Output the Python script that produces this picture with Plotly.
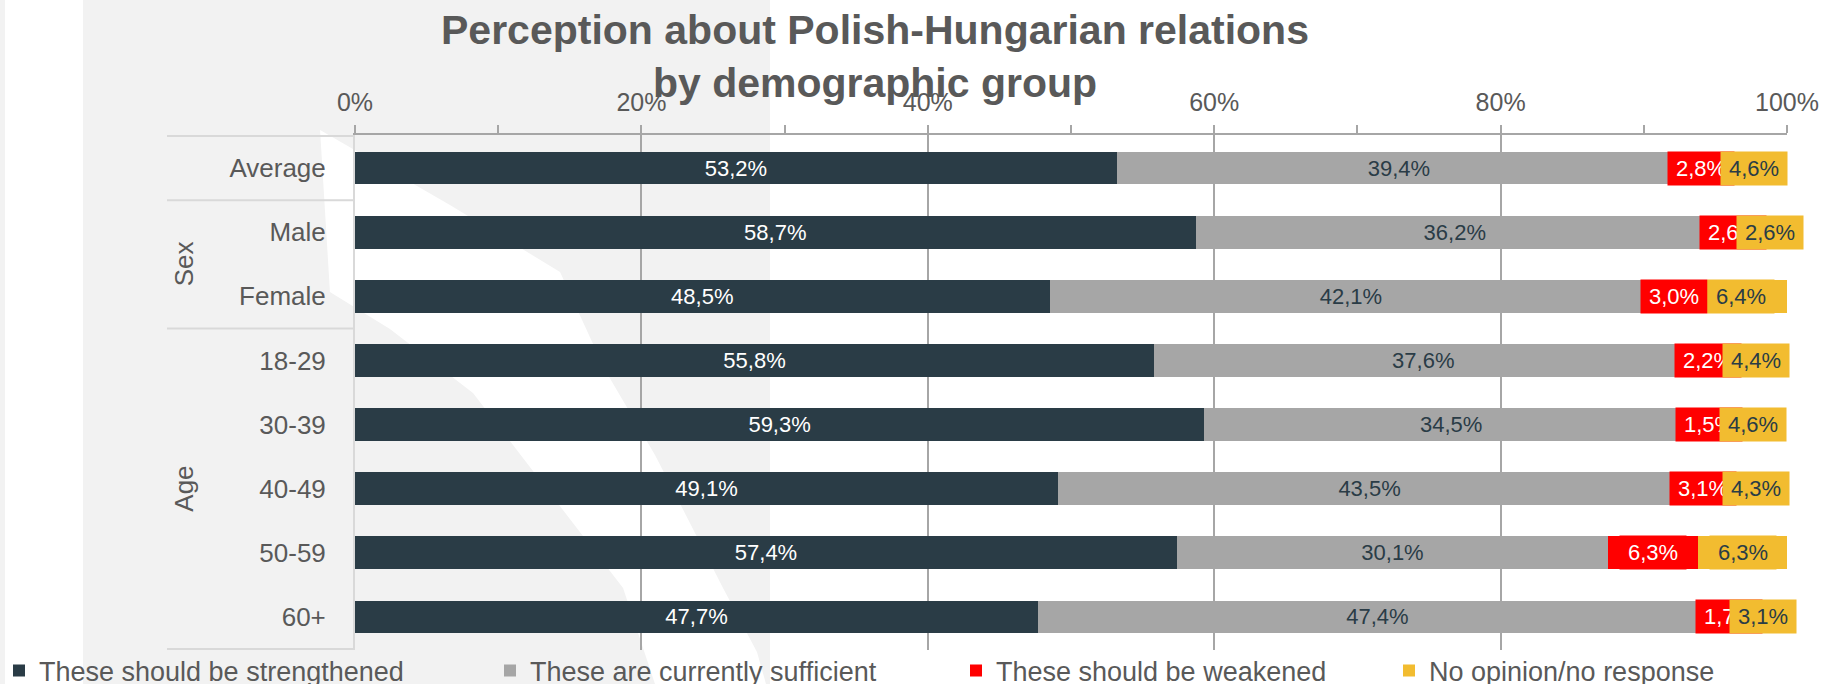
import plotly.graph_objects as go

# rows from top to bottom
categories = ['Average', 'Male', 'Female', '18-29', '30-39', '40-49', '50-59', '60+']
groups = {'Sex': ['Male', 'Female'], 'Age': ['18-29', '30-39', '40-49', '50-59', '60+']}

strengthened = [53.2, 58.7, 48.5, 55.8, 59.3, 49.1, 57.4, 47.7]
sufficient = [39.4, 36.2, 42.1, 37.6, 34.5, 43.5, 30.1, 47.4]
weakened = [2.8, 2.6, 3.0, 2.2, 1.5, 3.1, 6.3, 1.7]
no_opinion = [4.6, 2.6, 6.4, 4.4, 4.6, 4.3, 6.3, 3.1]

series_names = ['These should be strengthened', 'These are currently sufficient',
                'These should be weakened', 'No opinion/no response']

DARK = '#2a3c46'
GREY = '#a6a6a6'
RED = '#ff0000'
YELLOW = '#f2bc30'
TEXT = '#595959'
FONT = 'Liberation Sans, Arial, sans-serif'

W, H = 1827, 684
L, R, T, B = 355, 40, 135, 34


def px(v):
    # pixel x -> paper x
    return (v - L) / (W - L - R)


def py(v):
    # pixel y -> paper y
    return (H - B - v) / (H - T - B)


def fmt(v):
    return f'{v:.1f}%'.replace('.', ',')


fig = go.Figure()

fig.add_trace(go.Bar(
    y=categories, x=strengthened, orientation='h', name=series_names[0],
    marker=dict(color=DARK, line=dict(width=0)),
    text=[fmt(v) for v in strengthened], textposition='inside',
    insidetextanchor='middle', textangle=0,
    textfont=dict(family=FONT, size=22, color='white'),
    legend='legend2'))
fig.add_trace(go.Bar(
    y=categories, x=sufficient, orientation='h', name=series_names[1],
    marker=dict(color=GREY, line=dict(width=0)),
    text=[fmt(v) for v in sufficient], textposition='inside',
    insidetextanchor='middle', textangle=0,
    textfont=dict(family=FONT, size=22, color=DARK),
    legend='legend3'))
fig.add_trace(go.Bar(
    y=categories, x=weakened, orientation='h', name=series_names[2],
    marker=dict(color=RED, line=dict(width=0)),
    textposition='none', legend='legend4'))
fig.add_trace(go.Bar(
    y=categories, x=no_opinion, orientation='h', name=series_names[3],
    marker=dict(color=YELLOW, line=dict(width=0)),
    textposition='none', legend='legend5'))

# labels of the two thin segments, boxed like the original
annotations = []
for i, cat in enumerate(categories):
    base = strengthened[i] + sufficient[i]
    annotations.append(dict(
        x=base + weakened[i] / 2, y=cat, xref='x', yref='y', text=fmt(weakened[i]),
        showarrow=False, bgcolor=RED, width=66, height=33, borderpad=0,
        font=dict(family=FONT, size=22, color='white')))
for i, cat in enumerate(categories):
    base = strengthened[i] + sufficient[i] + weakened[i]
    annotations.append(dict(
        x=base + no_opinion[i] / 2, y=cat, xref='x', yref='y', text=fmt(no_opinion[i]),
        showarrow=False, bgcolor=YELLOW, width=66, height=33, borderpad=0,
        font=dict(family=FONT, size=22, color=DARK)))

# group labels on the category axis
for name, members in groups.items():
    idx = [categories.index(m) for m in members]
    annotations.append(dict(
        x=px(184), xref='paper', xanchor='center', y=(idx[0] + idx[-1]) / 2, yref='y',
        yanchor='middle', text=name, textangle=-90, showarrow=False,
        font=dict(family=FONT, size=26, color=TEXT)))

# background watermark + category dividers
shapes = [
    dict(type='rect', xref='paper', yref='paper', x0=px(0), x1=px(5), y0=py(H), y1=py(0),
         fillcolor='#f2f2f2', line=dict(width=0), layer='below'),
    dict(type='rect', xref='paper', yref='paper', x0=px(83), x1=px(770), y0=py(H), y1=py(0),
         fillcolor='#f2f2f2', line=dict(width=0), layer='below'),
]
swoosh = [(320, 130), (450, 205), (560, 272), (605, 370), (655, 455), (690, 523),
          (723, 588), (757, 652), (766, 684), (655, 684), (623, 588), (573, 523),
          (523, 458), (473, 393), (390, 329), (330, 292)]
path = 'M ' + ' L '.join(f'{px(a):.4f},{py(b):.4f}' for a, b in swoosh) + ' Z'
shapes.append(dict(type='path', xref='paper', yref='paper', path=path,
                   fillcolor='white', line=dict(width=0), layer='below'))

bounds = [-0.5, 0.5, 2.5, len(categories) - 0.5]
for b in bounds:
    shapes.append(dict(type='line', xref='paper', yref='y', x0=px(167), x1=0, y0=b, y1=b,
                       line=dict(color='#d9d9d9', width=2), layer='below'))

# one legend per series so each entry sits where the original has it
legend_lefts = [14, 505, 971, 1404]
legends = {}
for k, left in enumerate(legend_lefts):
    legends[f'legend{k + 2}'] = dict(
        orientation='h', x=px(left - 15), xanchor='left', y=py(671), yanchor='middle',
        font=dict(family=FONT, size=27, color=TEXT), bgcolor='rgba(0,0,0,0)')

fig.update_layout(
    width=W, height=H,
    margin=dict(l=L, r=R, t=T, b=B, autoexpand=False),
    paper_bgcolor='white', plot_bgcolor='rgba(0,0,0,0)',
    barmode='stack', bargap=0.49,
    title=dict(
        text='Perception about Polish-Hungarian relations<br>by demographic group',
        x=875 / W, xanchor='center', y=1 - 44 / H, yref='container', yanchor='top',
        font=dict(family=FONT, size=41, color=TEXT, weight='bold')),
    xaxis=dict(
        range=[0, 100], side='top', tick0=0, dtick=20, ticksuffix='%',
        showgrid=True, gridcolor=GREY, gridwidth=1.5, zeroline=False,
        showline=True, linecolor=GREY, linewidth=2,
        ticks='outside', ticklen=8, tickcolor=GREY, tickwidth=1.5,
        minor=dict(tick0=10, dtick=20, ticks='outside', ticklen=8, tickcolor=GREY,
                   tickwidth=1.5, showgrid=False),
        ticklabelstandoff=4,
        tickfont=dict(family=FONT, size=25, color=TEXT)),
    yaxis=dict(
        type='category', categoryorder='array', categoryarray=categories,
        autorange='reversed', showgrid=False, zeroline=False,
        showline=True, linecolor='#d9d9d9', linewidth=2, ticks='',
        ticklabelstandoff=22,
        tickfont=dict(family=FONT, size=26, color=TEXT)),
    shapes=shapes,
    annotations=annotations,
    **legends,
)

fig.write_html('out.html', config={'displayModeBar': False},
               post_script="document.body.style.margin='0';")
